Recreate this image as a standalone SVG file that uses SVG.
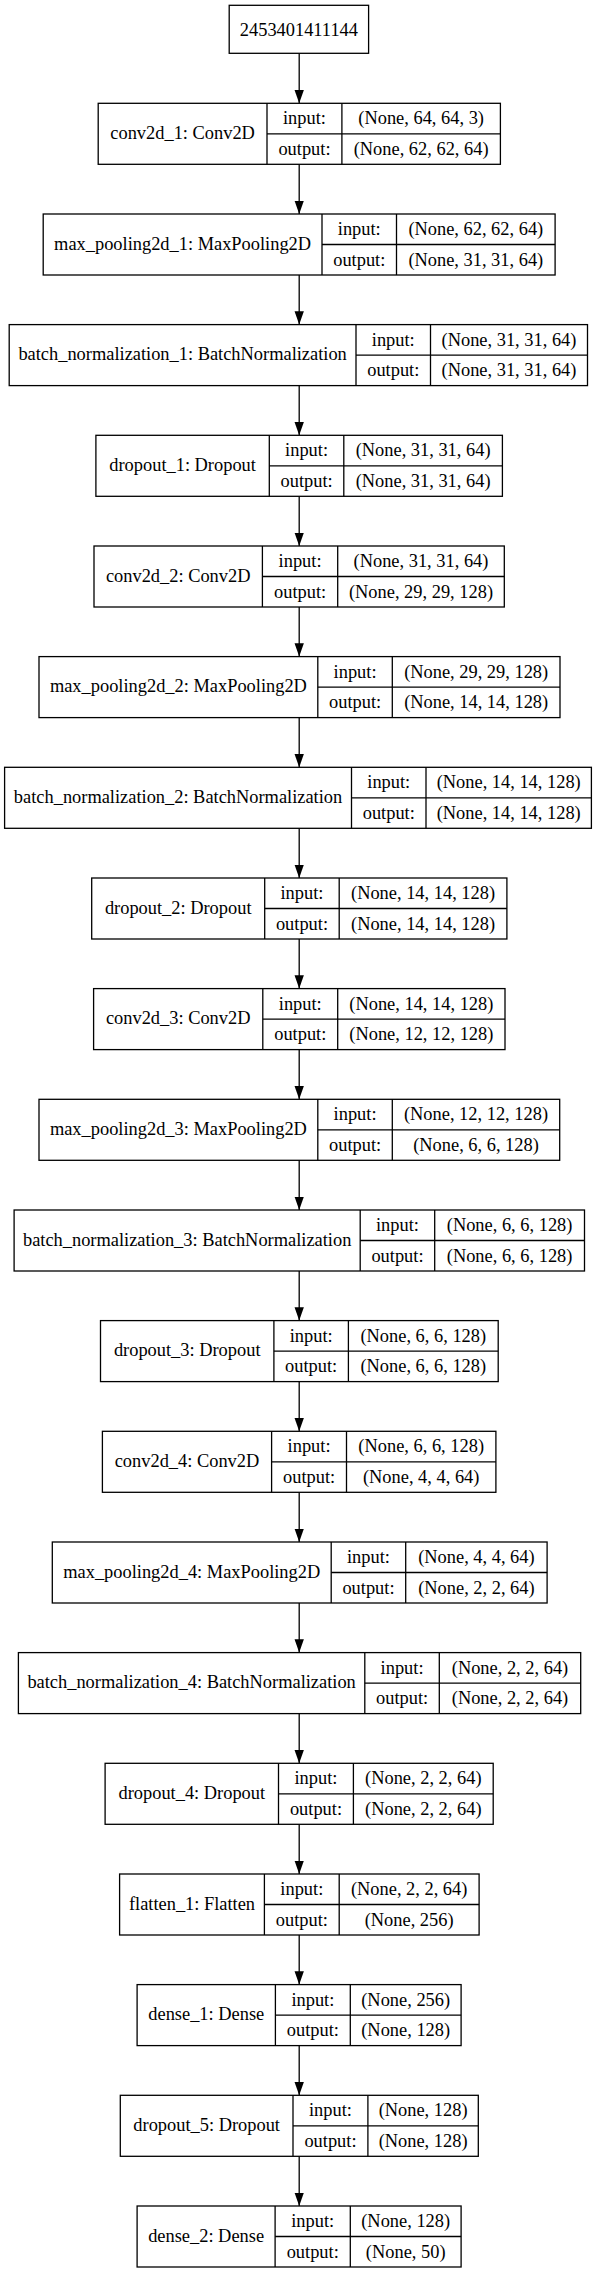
<svg xmlns="http://www.w3.org/2000/svg" width="599" height="2273" viewBox="0 0 599 2273">
<style>
rect{fill:#fff;stroke:#000;stroke-width:1.3}
.n line{stroke:#000;stroke-width:1.3}
text{font-family:"Liberation Serif","Times New Roman",serif;font-size:18.4px;text-anchor:middle;fill:#000}
.e line{stroke:#000;stroke-width:1.3;marker-end:url(#ah)}
</style>
<defs>
<marker id="ah" markerUnits="userSpaceOnUse" markerWidth="14" markerHeight="10" refX="13.3" refY="4.67" orient="auto"><path d="M0,0 L13.3,4.67 L0,9.33 Z" fill="#000"/></marker>
</defs>
<rect x="0" y="0" width="599" height="2273" style="stroke:none"/>
<g class="e" id="connectors">
<line x1="299.2" y1="53.3" x2="299.2" y2="103.3"/>
<line x1="299.2" y1="164.3" x2="299.2" y2="214"/>
<line x1="299.2" y1="275" x2="299.2" y2="324.6"/>
<line x1="299.2" y1="385.6" x2="299.2" y2="435.3"/>
<line x1="299.2" y1="496.3" x2="299.2" y2="546"/>
<line x1="299.2" y1="607" x2="299.2" y2="656.6"/>
<line x1="299.2" y1="717.6" x2="299.2" y2="767.3"/>
<line x1="299.2" y1="828.3" x2="299.2" y2="878"/>
<line x1="299.2" y1="939" x2="299.2" y2="988.6"/>
<line x1="299.2" y1="1049.6" x2="299.2" y2="1099.3"/>
<line x1="299.2" y1="1160.3" x2="299.2" y2="1210"/>
<line x1="299.2" y1="1271" x2="299.2" y2="1320.6"/>
<line x1="299.2" y1="1381.6" x2="299.2" y2="1431.3"/>
<line x1="299.2" y1="1492.3" x2="299.2" y2="1542"/>
<line x1="299.2" y1="1603" x2="299.2" y2="1652.6"/>
<line x1="299.2" y1="1713.6" x2="299.2" y2="1763.3"/>
<line x1="299.2" y1="1824.3" x2="299.2" y2="1874"/>
<line x1="299.2" y1="1935" x2="299.2" y2="1984.6"/>
<line x1="299.2" y1="2045.6" x2="299.2" y2="2095.3"/>
<line x1="299.2" y1="2156.3" x2="299.2" y2="2206"/>
</g>
<g id="input_node" class="n">
<rect x="229.2" y="5.3" width="139.4" height="48"/>
<text x="298.9" y="35.5">2453401411144</text>
</g>
<g id="conv2d_1" class="n" transform="translate(0,103.3)">
<rect x="98.2" y="0" width="402.2" height="61"/>
<line x1="267" y1="0" x2="267" y2="61"/><line x1="341.9" y1="0" x2="341.9" y2="61"/><line x1="267" y1="30.5" x2="500.4" y2="30.5"/>
<text x="182.6" y="35.5">conv2d_1: Conv2D</text>
<text x="304.45" y="21">input:</text><text x="304.45" y="51.5">output:</text>
<text x="421.15" y="21">(None, 64, 64, 3)</text><text x="421.15" y="51.5">(None, 62, 62, 64)</text>
</g>
<g id="max_pooling2d_1" class="n" transform="translate(0,214)">
<rect x="43.2" y="0" width="511.9" height="61"/>
<line x1="322" y1="0" x2="322" y2="61"/><line x1="396.5" y1="0" x2="396.5" y2="61"/><line x1="322" y1="30.5" x2="555.1" y2="30.5"/>
<text x="182.6" y="35.5">max_pooling2d_1: MaxPooling2D</text>
<text x="359.25" y="21">input:</text><text x="359.25" y="51.5">output:</text>
<text x="475.8" y="21">(None, 62, 62, 64)</text><text x="475.8" y="51.5">(None, 31, 31, 64)</text>
</g>
<g id="batch_normalization_1" class="n" transform="translate(0,324.6)">
<rect x="9.2" y="0" width="578.3" height="61"/>
<line x1="356" y1="0" x2="356" y2="61"/><line x1="430.5" y1="0" x2="430.5" y2="61"/><line x1="356" y1="30.5" x2="587.5" y2="30.5"/>
<text x="182.6" y="35.5">batch_normalization_1: BatchNormalization</text>
<text x="393.25" y="21">input:</text><text x="393.25" y="51.5">output:</text>
<text x="509" y="21">(None, 31, 31, 64)</text><text x="509" y="51.5">(None, 31, 31, 64)</text>
</g>
<g id="dropout_1" class="n" transform="translate(0,435.3)">
<rect x="95.9" y="0" width="406.5" height="61"/>
<line x1="269.3" y1="0" x2="269.3" y2="61"/><line x1="343.8" y1="0" x2="343.8" y2="61"/><line x1="269.3" y1="30.5" x2="502.4" y2="30.5"/>
<text x="182.6" y="35.5">dropout_1: Dropout</text>
<text x="306.55" y="21">input:</text><text x="306.55" y="51.5">output:</text>
<text x="423.1" y="21">(None, 31, 31, 64)</text><text x="423.1" y="51.5">(None, 31, 31, 64)</text>
</g>
<g id="conv2d_2" class="n" transform="translate(0,546)">
<rect x="94" y="0" width="410.3" height="61"/>
<line x1="262.4" y1="0" x2="262.4" y2="61"/><line x1="337.7" y1="0" x2="337.7" y2="61"/><line x1="262.4" y1="30.5" x2="504.3" y2="30.5"/>
<text x="178.2" y="35.5">conv2d_2: Conv2D</text>
<text x="300.05" y="21">input:</text><text x="300.05" y="51.5">output:</text>
<text x="421" y="21">(None, 31, 31, 64)</text><text x="421" y="51.5">(None, 29, 29, 128)</text>
</g>
<g id="max_pooling2d_2" class="n" transform="translate(0,656.6)">
<rect x="39" y="0" width="521" height="61"/>
<line x1="317.8" y1="0" x2="317.8" y2="61"/><line x1="392.3" y1="0" x2="392.3" y2="61"/><line x1="317.8" y1="30.5" x2="560" y2="30.5"/>
<text x="178.4" y="35.5">max_pooling2d_2: MaxPooling2D</text>
<text x="355.05" y="21">input:</text><text x="355.05" y="51.5">output:</text>
<text x="476.15" y="21">(None, 29, 29, 128)</text><text x="476.15" y="51.5">(None, 14, 14, 128)</text>
</g>
<g id="batch_normalization_2" class="n" transform="translate(0,767.3)">
<rect x="4.6" y="0" width="586.8" height="61"/>
<line x1="351.5" y1="0" x2="351.5" y2="61"/><line x1="426" y1="0" x2="426" y2="61"/><line x1="351.5" y1="30.5" x2="591.4" y2="30.5"/>
<text x="178.05" y="35.5">batch_normalization_2: BatchNormalization</text>
<text x="388.75" y="21">input:</text><text x="388.75" y="51.5">output:</text>
<text x="508.7" y="21">(None, 14, 14, 128)</text><text x="508.7" y="51.5">(None, 14, 14, 128)</text>
</g>
<g id="dropout_2" class="n" transform="translate(0,878)">
<rect x="91.7" y="0" width="415.2" height="61"/>
<line x1="264.7" y1="0" x2="264.7" y2="61"/><line x1="339.2" y1="0" x2="339.2" y2="61"/><line x1="264.7" y1="30.5" x2="506.9" y2="30.5"/>
<text x="178.2" y="35.5">dropout_2: Dropout</text>
<text x="301.95" y="21">input:</text><text x="301.95" y="51.5">output:</text>
<text x="423.05" y="21">(None, 14, 14, 128)</text><text x="423.05" y="51.5">(None, 14, 14, 128)</text>
</g>
<g id="conv2d_3" class="n" transform="translate(0,988.6)">
<rect x="93.6" y="0" width="411.4" height="61"/>
<line x1="262.8" y1="0" x2="262.8" y2="61"/><line x1="337.7" y1="0" x2="337.7" y2="61"/><line x1="262.8" y1="30.5" x2="505" y2="30.5"/>
<text x="178.2" y="35.5">conv2d_3: Conv2D</text>
<text x="300.25" y="21">input:</text><text x="300.25" y="51.5">output:</text>
<text x="421.35" y="21">(None, 14, 14, 128)</text><text x="421.35" y="51.5">(None, 12, 12, 128)</text>
</g>
<g id="max_pooling2d_3" class="n" transform="translate(0,1099.3)">
<rect x="39" y="0" width="520.7" height="61"/>
<line x1="317.8" y1="0" x2="317.8" y2="61"/><line x1="392.3" y1="0" x2="392.3" y2="61"/><line x1="317.8" y1="30.5" x2="559.7" y2="30.5"/>
<text x="178.4" y="35.5">max_pooling2d_3: MaxPooling2D</text>
<text x="355.05" y="21">input:</text><text x="355.05" y="51.5">output:</text>
<text x="476" y="21">(None, 12, 12, 128)</text><text x="476" y="51.5">(None, 6, 6, 128)</text>
</g>
<g id="batch_normalization_3" class="n" transform="translate(0,1210)">
<rect x="14.1" y="0" width="570.4" height="61"/>
<line x1="360.2" y1="0" x2="360.2" y2="61"/><line x1="434.7" y1="0" x2="434.7" y2="61"/><line x1="360.2" y1="30.5" x2="584.5" y2="30.5"/>
<text x="187.15" y="35.5">batch_normalization_3: BatchNormalization</text>
<text x="397.45" y="21">input:</text><text x="397.45" y="51.5">output:</text>
<text x="509.6" y="21">(None, 6, 6, 128)</text><text x="509.6" y="51.5">(None, 6, 6, 128)</text>
</g>
<g id="dropout_3" class="n" transform="translate(0,1320.6)">
<rect x="100.5" y="0" width="397.7" height="61"/>
<line x1="273.9" y1="0" x2="273.9" y2="61"/><line x1="348.4" y1="0" x2="348.4" y2="61"/><line x1="273.9" y1="30.5" x2="498.2" y2="30.5"/>
<text x="187.2" y="35.5">dropout_3: Dropout</text>
<text x="311.15" y="21">input:</text><text x="311.15" y="51.5">output:</text>
<text x="423.3" y="21">(None, 6, 6, 128)</text><text x="423.3" y="51.5">(None, 6, 6, 128)</text>
</g>
<g id="conv2d_4" class="n" transform="translate(0,1431.3)">
<rect x="102.4" y="0" width="393.5" height="61"/>
<line x1="271.6" y1="0" x2="271.6" y2="61"/><line x1="346.5" y1="0" x2="346.5" y2="61"/><line x1="271.6" y1="30.5" x2="495.9" y2="30.5"/>
<text x="187" y="35.5">conv2d_4: Conv2D</text>
<text x="309.05" y="21">input:</text><text x="309.05" y="51.5">output:</text>
<text x="421.2" y="21">(None, 6, 6, 128)</text><text x="421.2" y="51.5">(None, 4, 4, 64)</text>
</g>
<g id="max_pooling2d_4" class="n" transform="translate(0,1542)">
<rect x="52.3" y="0" width="494.8" height="61"/>
<line x1="331.2" y1="0" x2="331.2" y2="61"/><line x1="405.7" y1="0" x2="405.7" y2="61"/><line x1="331.2" y1="30.5" x2="547.1" y2="30.5"/>
<text x="191.75" y="35.5">max_pooling2d_4: MaxPooling2D</text>
<text x="368.45" y="21">input:</text><text x="368.45" y="51.5">output:</text>
<text x="476.4" y="21">(None, 4, 4, 64)</text><text x="476.4" y="51.5">(None, 2, 2, 64)</text>
</g>
<g id="batch_normalization_4" class="n" transform="translate(0,1652.6)">
<rect x="18.4" y="0" width="562.3" height="61"/>
<line x1="364.8" y1="0" x2="364.8" y2="61"/><line x1="439.3" y1="0" x2="439.3" y2="61"/><line x1="364.8" y1="30.5" x2="580.7" y2="30.5"/>
<text x="191.6" y="35.5">batch_normalization_4: BatchNormalization</text>
<text x="402.05" y="21">input:</text><text x="402.05" y="51.5">output:</text>
<text x="510" y="21">(None, 2, 2, 64)</text><text x="510" y="51.5">(None, 2, 2, 64)</text>
</g>
<g id="dropout_4" class="n" transform="translate(0,1763.3)">
<rect x="105.1" y="0" width="388.1" height="61"/>
<line x1="278.5" y1="0" x2="278.5" y2="61"/><line x1="353.4" y1="0" x2="353.4" y2="61"/><line x1="278.5" y1="30.5" x2="493.2" y2="30.5"/>
<text x="191.8" y="35.5">dropout_4: Dropout</text>
<text x="315.95" y="21">input:</text><text x="315.95" y="51.5">output:</text>
<text x="423.3" y="21">(None, 2, 2, 64)</text><text x="423.3" y="51.5">(None, 2, 2, 64)</text>
</g>
<g id="flatten_1" class="n" transform="translate(0,1874)">
<rect x="119.6" y="0" width="359.5" height="61"/>
<line x1="264.4" y1="0" x2="264.4" y2="61"/><line x1="339.2" y1="0" x2="339.2" y2="61"/><line x1="264.4" y1="30.5" x2="479.1" y2="30.5"/>
<text x="192" y="35.5">flatten_1: Flatten</text>
<text x="301.8" y="21">input:</text><text x="301.8" y="51.5">output:</text>
<text x="409.15" y="21">(None, 2, 2, 64)</text><text x="409.15" y="51.5">(None, 256)</text>
</g>
<g id="dense_1" class="n" transform="translate(0,1984.6)">
<rect x="137.1" y="0" width="324" height="61"/>
<line x1="275.4" y1="0" x2="275.4" y2="61"/><line x1="350.3" y1="0" x2="350.3" y2="61"/><line x1="275.4" y1="30.5" x2="461.1" y2="30.5"/>
<text x="206.25" y="35.5">dense_1: Dense</text>
<text x="312.85" y="21">input:</text><text x="312.85" y="51.5">output:</text>
<text x="405.7" y="21">(None, 256)</text><text x="405.7" y="51.5">(None, 128)</text>
</g>
<g id="dropout_5" class="n" transform="translate(0,2095.3)">
<rect x="120.3" y="0" width="358" height="61"/>
<line x1="293" y1="0" x2="293" y2="61"/><line x1="367.9" y1="0" x2="367.9" y2="61"/><line x1="293" y1="30.5" x2="478.3" y2="30.5"/>
<text x="206.65" y="35.5">dropout_5: Dropout</text>
<text x="330.45" y="21">input:</text><text x="330.45" y="51.5">output:</text>
<text x="423.1" y="21">(None, 128)</text><text x="423.1" y="51.5">(None, 128)</text>
</g>
<g id="dense_2" class="n" transform="translate(0,2206)">
<rect x="137.1" y="0" width="324" height="61"/>
<line x1="275.1" y1="0" x2="275.1" y2="61"/><line x1="350.3" y1="0" x2="350.3" y2="61"/><line x1="275.1" y1="30.5" x2="461.1" y2="30.5"/>
<text x="206.1" y="35.5">dense_2: Dense</text>
<text x="312.7" y="21">input:</text><text x="312.7" y="51.5">output:</text>
<text x="405.7" y="21">(None, 128)</text><text x="405.7" y="51.5">(None, 50)</text>
</g>
</svg>
